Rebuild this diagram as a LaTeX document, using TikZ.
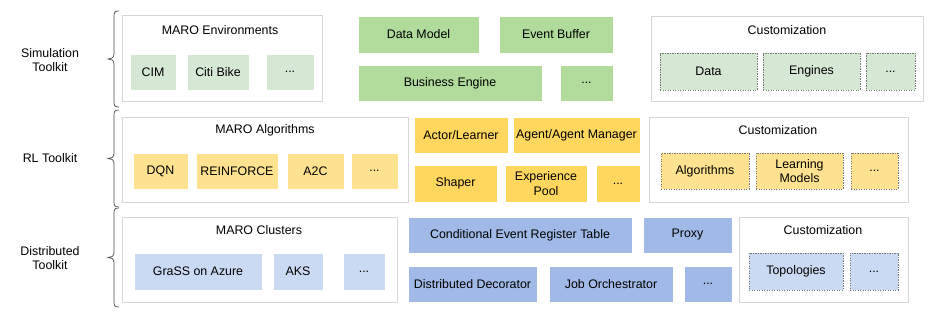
\documentclass[tikz,border=0pt]{standalone}
\usepackage{fontspec}
\setmainfont{Liberation Sans}
\definecolor{gmid}{HTML}{B0DB9A}
\definecolor{glite}{HTML}{D5E8D4}
\definecolor{ymid}{HTML}{FFD75E}
\definecolor{ylite}{HTML}{FFE28F}
\definecolor{bmid}{HTML}{A0B9E6}
\definecolor{blite}{HTML}{CBDAF3}
\definecolor{cborder}{HTML}{D6D6D6}
\definecolor{dborder}{HTML}{777777}
\tikzset{
  every node/.style={font=\fontsize{12.4}{14.5}\selectfont, text=black, inner sep=0pt, outer sep=0pt, align=center},
  container/.style={draw=cborder, line width=0.9pt, fill=white},
  solidbox/.style={draw=white, line width=0.6pt},
  custbox/.style={draw=dborder, line width=0.6pt, dash pattern=on 1.3pt off 1.2pt},
  bracestyle/.style={draw=black!70, line width=0.7pt},
  title/.style={anchor=center},
}
\newcommand\bx[7]{\node[#6, minimum width={#4-#2}, minimum height={#5-#3}] (#1) at ({(#2+#4)/2},{(#3+#5)/2}) {#7};}
\newcommand\brc[4]{% name, xtip, ytop, ybot
  \draw[bracestyle] ({#2+11},#3) .. controls ({#2+7},#3) and ({#2+6},{#3+1}) .. ({#2+6},{#3+5})
    -- ({#2+6},{(#3+#4)/2-5}) .. controls ({#2+6},{(#3+#4)/2-1}) and ({#2+3},{(#3+#4)/2}) .. ({#2},{(#3+#4)/2})
    .. controls ({#2+3},{(#3+#4)/2}) and ({#2+6},{(#3+#4)/2+1}) .. ({#2+6},{(#3+#4)/2+5})
    -- ({#2+6},{#4-5}) .. controls ({#2+6},{#4-1}) and ({#2+7},#4) .. ({#2+11},#4);
  \coordinate (#1) at ({#2},{(#3+#4)/2});}
\begin{document}
\begin{tikzpicture}[x=1pt,y=-1pt]
\useasboundingbox (0,0) rectangle (939,329);
% ---------------- Simulation Toolkit
\node (simlabel) at (50,60) {Simulation\\Toolkit};
\brc{simbrace}{108}{11}{107}
\bx{envc}{122}{15}{322}{101}{container}{}
\node[title] (envt) at (220,30) {MARO Environments};
\bx{cim}{130}{54}{176}{90}{solidbox,fill=glite}{CIM}
\bx{citi}{187}{54}{249}{90}{solidbox,fill=glite}{Citi Bike}
\bx{envdots}{266}{54}{314}{90}{solidbox,fill=glite}{...}
\bx{datamodel}{358}{16}{479}{53}{solidbox,fill=gmid}{Data Model}
\bx{evbuf}{499}{16}{613}{53}{solidbox,fill=gmid}{Event Buffer}
\bx{bizeng}{358}{65}{542}{101}{solidbox,fill=gmid}{Business Engine}
\bx{simdots}{560}{65}{613}{101}{solidbox,fill=gmid}{...}
\bx{simcust}{651}{16}{923}{101}{container}{}
\node[title] (simcustt) at (787,30) {Customization};
\bx{cdata}{660}{53}{757}{90}{custbox,fill=glite}{Data}
\bx{cengines}{763}{53}{860}{90}{custbox,fill=glite}{Engines}
\bx{csimdots}{866}{53}{915}{90}{custbox,fill=glite}{...}
% ---------------- RL Toolkit
\node (rllabel) at (50,158) {RL Toolkit};
\brc{rlbrace}{108}{110}{207}
\bx{algc}{122}{117}{408}{202}{container}{}
\node[title] (algt) at (265,130) {MARO Algorithms};
\bx{dqn}{133}{153}{188}{189}{solidbox,fill=ylite}{DQN}
\bx{reinf}{196}{153}{278}{189}{solidbox,fill=ylite}{REINFORCE}
\bx{atwoc}{287}{153}{344}{189}{solidbox,fill=ylite}{A2C}
\bx{algdots}{351}{153}{398}{189}{solidbox,fill=ylite}{...}
\bx{actor}{414}{117}{508}{153}{solidbox,fill=ymid}{Actor/Learner}
\bx{agent}{513}{117}{640}{153}{solidbox,fill=ymid}{Agent/Agent Manager}
\bx{shaper}{414}{165}{497}{202}{solidbox,fill=ymid}{Shaper}
\bx{exppool}{505}{165}{587}{202}{solidbox,fill=ymid}{Experience\\Pool}
\bx{rldots}{596}{165}{640}{202}{solidbox,fill=ymid}{...}
\bx{rlcust}{649}{117}{908}{202}{container}{}
\node[title] (rlcustt) at (778,130) {Customization};
\bx{calgs}{661}{153}{749}{189}{custbox,fill=ylite}{Algorithms}
\bx{cmodels}{756}{153}{843}{189}{custbox,fill=ylite}{Learning\\Models}
\bx{crldots}{851}{153}{898}{189}{custbox,fill=ylite}{...}
% ---------------- Distributed Toolkit
\node (dlabel) at (50,258) {Distributed\\Toolkit};
\brc{dbrace}{108}{208}{307}
\bx{clc}{122}{217}{397}{302}{container}{}
\node[title] (clt) at (259,230) {MARO Clusters};
\bx{grass}{134}{253}{262}{290}{solidbox,fill=blite}{GraSS on Azure}
\bx{aks}{273}{253}{323}{290}{solidbox,fill=blite}{AKS}
\bx{cldots}{343}{253}{385}{290}{solidbox,fill=blite}{...}
\bx{cert}{408}{217}{632}{253}{solidbox,fill=bmid}{Conditional Event Register Table}
\bx{proxy}{643}{217}{732}{253}{solidbox,fill=bmid}{Proxy}
\bx{ddec}{408}{266}{537}{302}{solidbox,fill=bmid}{Distributed Decorator}
\bx{jobo}{549}{266}{673}{302}{solidbox,fill=bmid}{Job Orchestrator}
\bx{ddots}{684}{266}{732}{302}{solidbox,fill=bmid}{...}
\bx{dcust}{739}{217}{908}{302}{container}{}
\node[title] (dcustt) at (823,230) {Customization};
\bx{ctopo}{749}{253}{843}{290}{custbox,fill=blite}{Topologies}
\bx{cddots}{850}{253}{898}{290}{custbox,fill=blite}{...}
\end{tikzpicture}
\end{document}
